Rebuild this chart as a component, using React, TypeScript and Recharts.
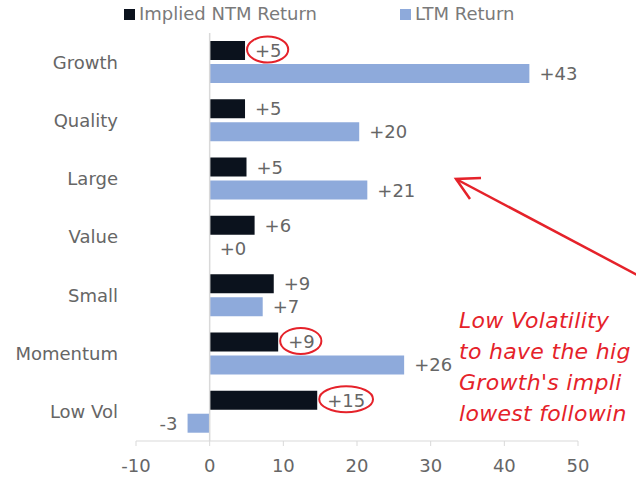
import {
  Bar,
  BarChart,
  LabelList,
  ReferenceLine,
  XAxis,
  YAxis,
} from "recharts";

const categories = ["Growth", "Quality", "Large", "Value", "Small", "Momentum", "Low Vol"];
const impliedNtm = [4.8, 4.8, 5.0, 6.1, 8.7, 9.3, 14.6];
const ltmReturn = [43.4, 20.3, 21.4, 0, 7.2, 26.4, -3.0];
const xTicks = [-10, 0, 10, 20, 30, 40, 50];
const circled = ["Growth", "Momentum", "Low Vol"];
const seriesNames = ["Implied NTM Return", "LTM Return"];
// the note runs off the right edge in the source, so only what shows is kept
const noteLines = ["Low Volatility", "to have the hig", "Growth's impli", "lowest followin"];

const NTM_COLOR = "#0b121d";
const LTM_COLOR = "#8eaadb";
const TEXT = "#666666";
const GRID = "#d9d9d9";
const RED = "#e5222a";
const FONT = "'DejaVu Sans', sans-serif";

const data = categories.map((name, i) => ({
  name,
  ntm: impliedNtm[i],
  ltm: ltmReturn[i],
}));

const fmt = (v: number) => {
  const r = Math.round(v);
  return r >= 0 ? `+${r}` : `${r}`;
};

function makeLabel(withCircles: boolean) {
  return (props: any) => {
    const { x, y, width, height, value, index } = props;
    const left = Math.min(x, x + width);
    const right = value === 0 ? x : Math.max(x, x + width);
    const cy = y + height / 2;
    const text = fmt(value);
    if (value < 0) {
      return (
        <text x={left - 10} y={cy} dy="0.36em" textAnchor="end" fill={TEXT} fontSize={18} fontFamily={FONT}>
          {text}
        </text>
      );
    }
    const tx = right + 10;
    const tw = text.length * 12.6;
    const ring = withCircles && circled.includes(categories[index]);
    return (
      <g>
        <text x={tx} y={cy} dy="0.36em" textAnchor="start" fill={TEXT} fontSize={18} fontFamily={FONT}>
          {text}
        </text>
        {ring && (
          <ellipse
            cx={tx + tw / 2}
            cy={cy - 1}
            rx={tw / 2 + 8}
            ry={13}
            fill="none"
            stroke={RED}
            strokeWidth={2}
          />
        )}
      </g>
    );
  };
}

export default function App() {
  return (
    <div style={{ position: "relative", width: 636, height: 479, overflow: "hidden", background: "#fff" }}>
      <style>{`body{margin:0}`}</style>
      <div
        style={{
          position: "absolute",
          top: 4,
          left: 124,
          display: "flex",
          fontFamily: FONT,
          fontSize: 18,
          color: "#7a7a7a",
          lineHeight: "20px",
        }}
      >
        {seriesNames.map((s, i) => (
          <div key={s} style={{ display: "flex", alignItems: "center", marginRight: i === 0 ? 83 : 0 }}>
            <span
              style={{
                display: "inline-block",
                width: 11,
                height: 11,
                background: i === 0 ? NTM_COLOR : LTM_COLOR,
                marginRight: 4,
              }}
            />
            {s}
          </div>
        ))}
      </div>
      <BarChart
        width={636}
        height={479}
        data={data}
        layout="vertical"
        margin={{ top: 33, right: 58, bottom: 8, left: 8 }}
        barSize={19}
        barGap={4}
      >
        <XAxis
          type="number"
          domain={[-10, 50]}
          ticks={xTicks}
          interval={0}
          axisLine={{ stroke: GRID }}
          tickLine={{ stroke: GRID }}
          tickSize={5}
          tickMargin={13}
          height={30}
          tick={{ fill: TEXT, fontSize: 18, fontFamily: FONT }}
        />
        <YAxis
          type="category"
          dataKey="name"
          width={128}
          axisLine={false}
          tickLine={false}
          tickSize={0}
          tickMargin={18}
          tick={{ fill: TEXT, fontSize: 18, fontFamily: FONT }}
        />
        <ReferenceLine x={0} stroke={GRID} strokeWidth={1.5} />
        <Bar dataKey="ntm" name={seriesNames[0]} fill={NTM_COLOR} isAnimationActive={false}>
          <LabelList dataKey="ntm" content={makeLabel(true)} />
        </Bar>
        <Bar
          dataKey="ltm"
          name={seriesNames[1]}
          fill={LTM_COLOR}
          minPointSize={(v: number) => (v === 0 ? 0.01 : 0)}
          isAnimationActive={false}
        >
          <LabelList dataKey="ltm" content={makeLabel(false)} />
        </Bar>
      </BarChart>
      <svg
        width={636}
        height={479}
        style={{ position: "absolute", top: 0, left: 0, pointerEvents: "none" }}
      >
        <line x1={660} y1={287} x2={456} y2={179} stroke={RED} strokeWidth={2.5} />
        <polyline points="481,178 456,179 470,199" fill="none" stroke={RED} strokeWidth={2.5} />
        {noteLines.map((t, i) => (
          <text
            key={t}
            x={459}
            y={328 + i * 31}
            fill={RED}
            fontSize={22}
            fontStyle="italic"
            letterSpacing={0.3}
            fontFamily={FONT}
          >
            {t}
          </text>
        ))}
      </svg>
    </div>
  );
}
